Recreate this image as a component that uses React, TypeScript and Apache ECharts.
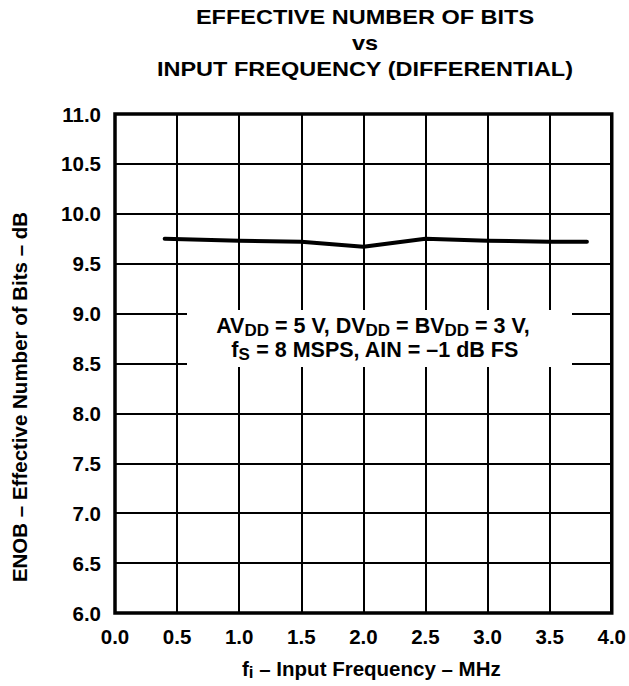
import React, { useEffect, useRef } from "react";
import * as echarts from "echarts";

const titleLines = [
  "EFFECTIVE NUMBER OF BITS",
  "vs",
  "INPUT FREQUENCY (DIFFERENTIAL)",
];
const freqMHz = [0.4, 1.0, 1.5, 2.0, 2.5, 3.0, 3.5, 3.8];
const enobBits = [9.75, 9.73, 9.72, 9.67, 9.75, 9.73, 9.72, 9.72];
const xTicks = { min: 0, max: 4, interval: 0.5 };
const yTicks = { min: 6, max: 11, interval: 0.5 };
const annotationLines = [
  "AV{s|DD} = 5 V, DV{s|DD} = BV{s|DD} = 3 V,",
  "f{s|S} = 8 MSPS, AIN = –1 dB FS",
];
const xAxisName = "f{s|i} – Input Frequency – MHz";
const yAxisName = "ENOB – Effective Number of Bits – dB";

const FONT = "'Liberation Sans', Arial, Helvetica, sans-serif";

export default function App() {
  const ref = useRef<HTMLDivElement>(null);
  useEffect(() => {
    document.body.style.margin = "0";
    const chart = echarts.init(ref.current!, undefined, { renderer: "svg" });
    const grid = { left: 115, top: 114, width: 498, height: 499 };
    const subRich = {
      s: {
        fontFamily: FONT,
        fontWeight: "bold",
        fontSize: 17,
        color: "#000",
        padding: [8, 0, 0, 0],
        lineHeight: 23,
      },
    };
    const annoStyle = (text: string) => ({
      text,
      fontFamily: FONT,
      fontWeight: "bold",
      fontSize: 21.5,
      lineHeight: 23,
      fill: "#000",
      align: "center",
      verticalAlign: "middle",
      rich: subRich,
    });
    chart.setOption({
      animation: false,
      backgroundColor: "#fff",
      grid: {
        ...grid,
        show: true,
        borderColor: "#000",
        borderWidth: 3.5,
        backgroundColor: "transparent",
      },
      xAxis: {
        type: "value",
        min: xTicks.min,
        max: xTicks.max,
        interval: xTicks.interval,
        axisLine: { show: false },
        axisTick: { show: false },
        splitLine: { show: true, lineStyle: { color: "#000", width: 2 } },
        axisLabel: {
          margin: 13,
          fontFamily: FONT,
          fontWeight: "bold",
          fontSize: 20.5,
          color: "#000",
          formatter: (v: number) => v.toFixed(1),
        },
        name: xAxisName,
        nameLocation: "middle",
        nameGap: 44,
        nameTextStyle: {
          fontFamily: FONT,
          fontWeight: "bold",
          fontSize: 20.5,
          color: "#000",
          lineHeight: 23,
          padding: [0, 0, 0, 16],
          rich: subRich,
        },
      },
      yAxis: {
        type: "value",
        min: yTicks.min,
        max: yTicks.max,
        interval: yTicks.interval,
        axisLine: { show: false },
        axisTick: { show: false },
        splitLine: { show: true, lineStyle: { color: "#000", width: 2 } },
        axisLabel: {
          margin: 14,
          fontFamily: FONT,
          fontWeight: "bold",
          fontSize: 20.5,
          color: "#000",
          formatter: (v: number) => v.toFixed(1),
        },
      },
      series: [
        {
          type: "line",
          data: freqMHz.map((f, i) => [f, enobBits[i]]),
          showSymbol: false,
          symbol: "none",
          lineStyle: { color: "#000", width: 4, cap: "round", join: "round" },
          z: 5,
        },
      ],
      graphic: [
        {
          type: "text",
          x: 365,
          y: 4,
          scaleX: 1.12,
          z: 10,
          style: {
            text: titleLines.join("\n"),
            fontFamily: FONT,
            fontWeight: "bold",
            fontSize: 21,
            lineHeight: 26,
            fill: "#000",
            align: "center",
            verticalAlign: "top",
          },
        },
        {
          type: "rect",
          z: 10,
          shape: { x: 187, y: 310, width: 385, height: 57 },
          style: { fill: "#fff" },
        },
        {
          type: "text",
          x: 373,
          y: 326,
          z: 11,
          style: annoStyle(annotationLines[0]),
        },
        {
          type: "text",
          x: 375,
          y: 350,
          z: 11,
          style: annoStyle(annotationLines[1]),
        },
        {
          type: "text",
          x: 19.5,
          y: 397,
          rotation: Math.PI / 2,
          z: 10,
          style: {
            text: yAxisName,
            fontFamily: FONT,
            fontWeight: "bold",
            fontSize: 20.5,
            fill: "#000",
            align: "center",
            verticalAlign: "middle",
          },
        },
      ],
    });
    return () => chart.dispose();
  }, []);
  return <div ref={ref} style={{ width: 629, height: 686 }} />;
}
